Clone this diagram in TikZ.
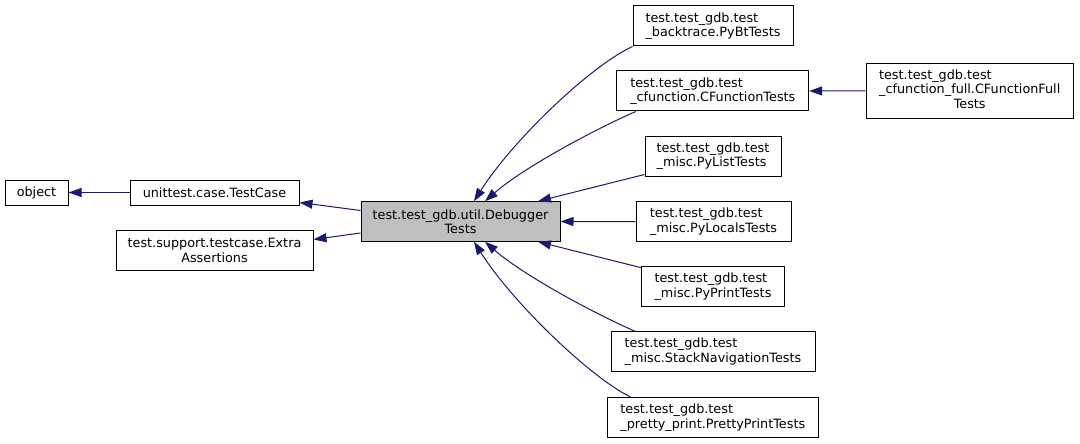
\documentclass[tikz,border=0pt]{standalone}
\usepackage{fontspec}
\setmainfont{DejaVu Sans}
\usetikzlibrary{arrows.meta}
\definecolor{midnight}{HTML}{191970}
\definecolor{rootgray}{HTML}{BFBFBF}
\begin{document}
\begin{tikzpicture}[x=1pt,y=-1pt,
  cls/.style={draw=black, line width=1pt, fill=white, inner sep=0pt, font=\fontsize{12.8}{14.5}\selectfont},
  lcls/.style={cls, align=left},
  ccls/.style={cls, align=center},
  edge/.style={draw=midnight, line width=1pt, -{Triangle[length=13pt,width=9pt]}},
]
\useasboundingbox (0,0) rectangle (1080,444);

\node[cls, minimum width=63, minimum height=25] (object) at (36.5,192.5) {object};
\node[cls, minimum width=169, minimum height=25] (testcase) at (214.5,192.5) {unittest.case.TestCase};
\node[ccls, minimum width=197, minimum height=40] (extra) at (214.5,250.5) {test.support.testcase.Extra\\Assertions};
\node[ccls, fill=rootgray, minimum width=199, minimum height=39.5] (dbg) at (460.5,221.5) {test.test\_gdb.util.Debugger\\Tests};

\node[lcls, minimum width=160, minimum height=40] (pybt) at (713,26) {test.test\_gdb.test\\\_backtrace.PyBtTests};
\node[lcls, minimum width=191.7, minimum height=40] (cfunc) at (712.8,91) {test.test\_gdb.test\\\_cfunction.CFunctionTests};
\node[cls, minimum width=207, minimum height=55] (cffull) at (969.7,90.8) {\begin{tabular}{@{}l@{}}test.test\_gdb.test\\\_cfunction\_full.CFunctionFull\\\multicolumn{1}{@{}c@{}}{Tests}\end{tabular}};
\node[lcls, minimum width=136, minimum height=40] (pylist) at (713,156) {test.test\_gdb.test\\\_misc.PyListTests};
\node[lcls, minimum width=155, minimum height=40] (pylocals) at (713.5,221.7) {test.test\_gdb.test\\\_misc.PyLocalsTests};
\node[lcls, minimum width=142.6, minimum height=40] (pyprint) at (713,286.7) {test.test\_gdb.test\\\_misc.PyPrintTests};
\node[lcls, minimum width=204, minimum height=39.5] (stack) at (713,351.7) {test.test\_gdb.test\\\_misc.StackNavigationTests};
\node[lcls, minimum width=211.5, minimum height=40] (pretty) at (712.8,417.5) {test.test\_gdb.test\\\_pretty\_print.PrettyPrintTests};

% edges
\draw[edge] (testcase.west) -- (object.east);
\draw[edge] ([yshift=11pt]dbg.west) -- ([yshift=-10pt]testcase.east);
\draw[edge] ([yshift=-11.5pt]dbg.west) -- ([yshift=11pt]extra.east);
\draw[edge] (pybt.south west) .. controls +(-43,20) and +(38,-60) .. ([xshift=13.5pt]dbg.north);
\draw[edge] ([xshift=-77pt]cfunc.south) .. controls +(-35,15) and +(40,-35) .. ([xshift=24.5pt]dbg.north);
\draw[edge] ([yshift=2pt]pylist.south west) -- ([xshift=77.5pt]dbg.north);
\draw[edge] (pylocals.west) -- (dbg.east);
\draw[edge] ([yshift=-1.5pt]pyprint.north west) -- ([xshift=77.5pt]dbg.south);
\draw[edge] ([xshift=25pt]stack.north west) .. controls +(-35,-15) and +(40,35) .. ([xshift=24.5pt]dbg.south);
\draw[edge] ([xshift=24pt]pretty.north west) .. controls +(-41,-20) and +(38,60) .. ([xshift=13.5pt]dbg.south);
\draw[edge] (cffull.west) -- (cfunc.east);
\end{tikzpicture}
\end{document}
